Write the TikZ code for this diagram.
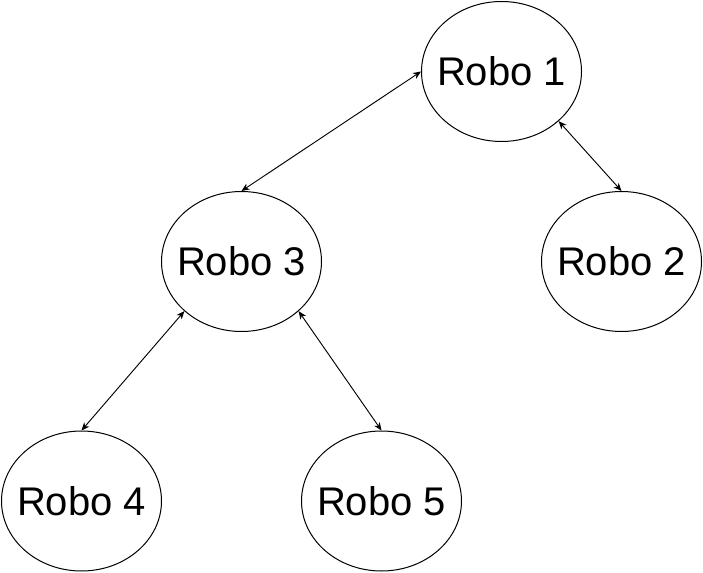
\documentclass[tikz,border=0pt]{standalone}
\usepackage{fontspec}
\setmainfont{Liberation Sans}
\usetikzlibrary{arrows.meta,shapes.geometric}
\begin{document}
\begin{tikzpicture}[x=0.75pt,y=-0.75pt,
  robo/.style={draw, ellipse, line width=0.75pt, minimum width=120pt, minimum height=105pt, inner sep=0pt, font=\fontsize{30pt}{36pt}\selectfont},
  link/.style={line width=0.7pt, {Stealth[length=6pt,width=5pt,inset=1.8pt]}-{Stealth[length=6pt,width=5pt,inset=1.8pt]}}]
\useasboundingbox (0,0) rectangle (703,573);
\node[robo] (r1) at (501.5,71.5) {\makebox[0pt]{Robo 1}};
\node[robo] (r2) at (621.5,261.5) {\makebox[0pt]{Robo 2}};
\node[robo] (r3) at (241.5,261.5) {\makebox[0pt]{Robo 3}};
\node[robo] (r4) at (81.5,501) {\makebox[0pt]{Robo 4}};
\node[robo] (r5) at (381.5,501) {\makebox[0pt]{Robo 5}};
\draw[link] (r1.west) -- (r3.north);
\draw[link] (r1.-41) -- (r2.north);
\draw[link] (r3.-139) -- (r4.north);
\draw[link] (r3.-41) -- (r5.north);
\end{tikzpicture}
\end{document}
